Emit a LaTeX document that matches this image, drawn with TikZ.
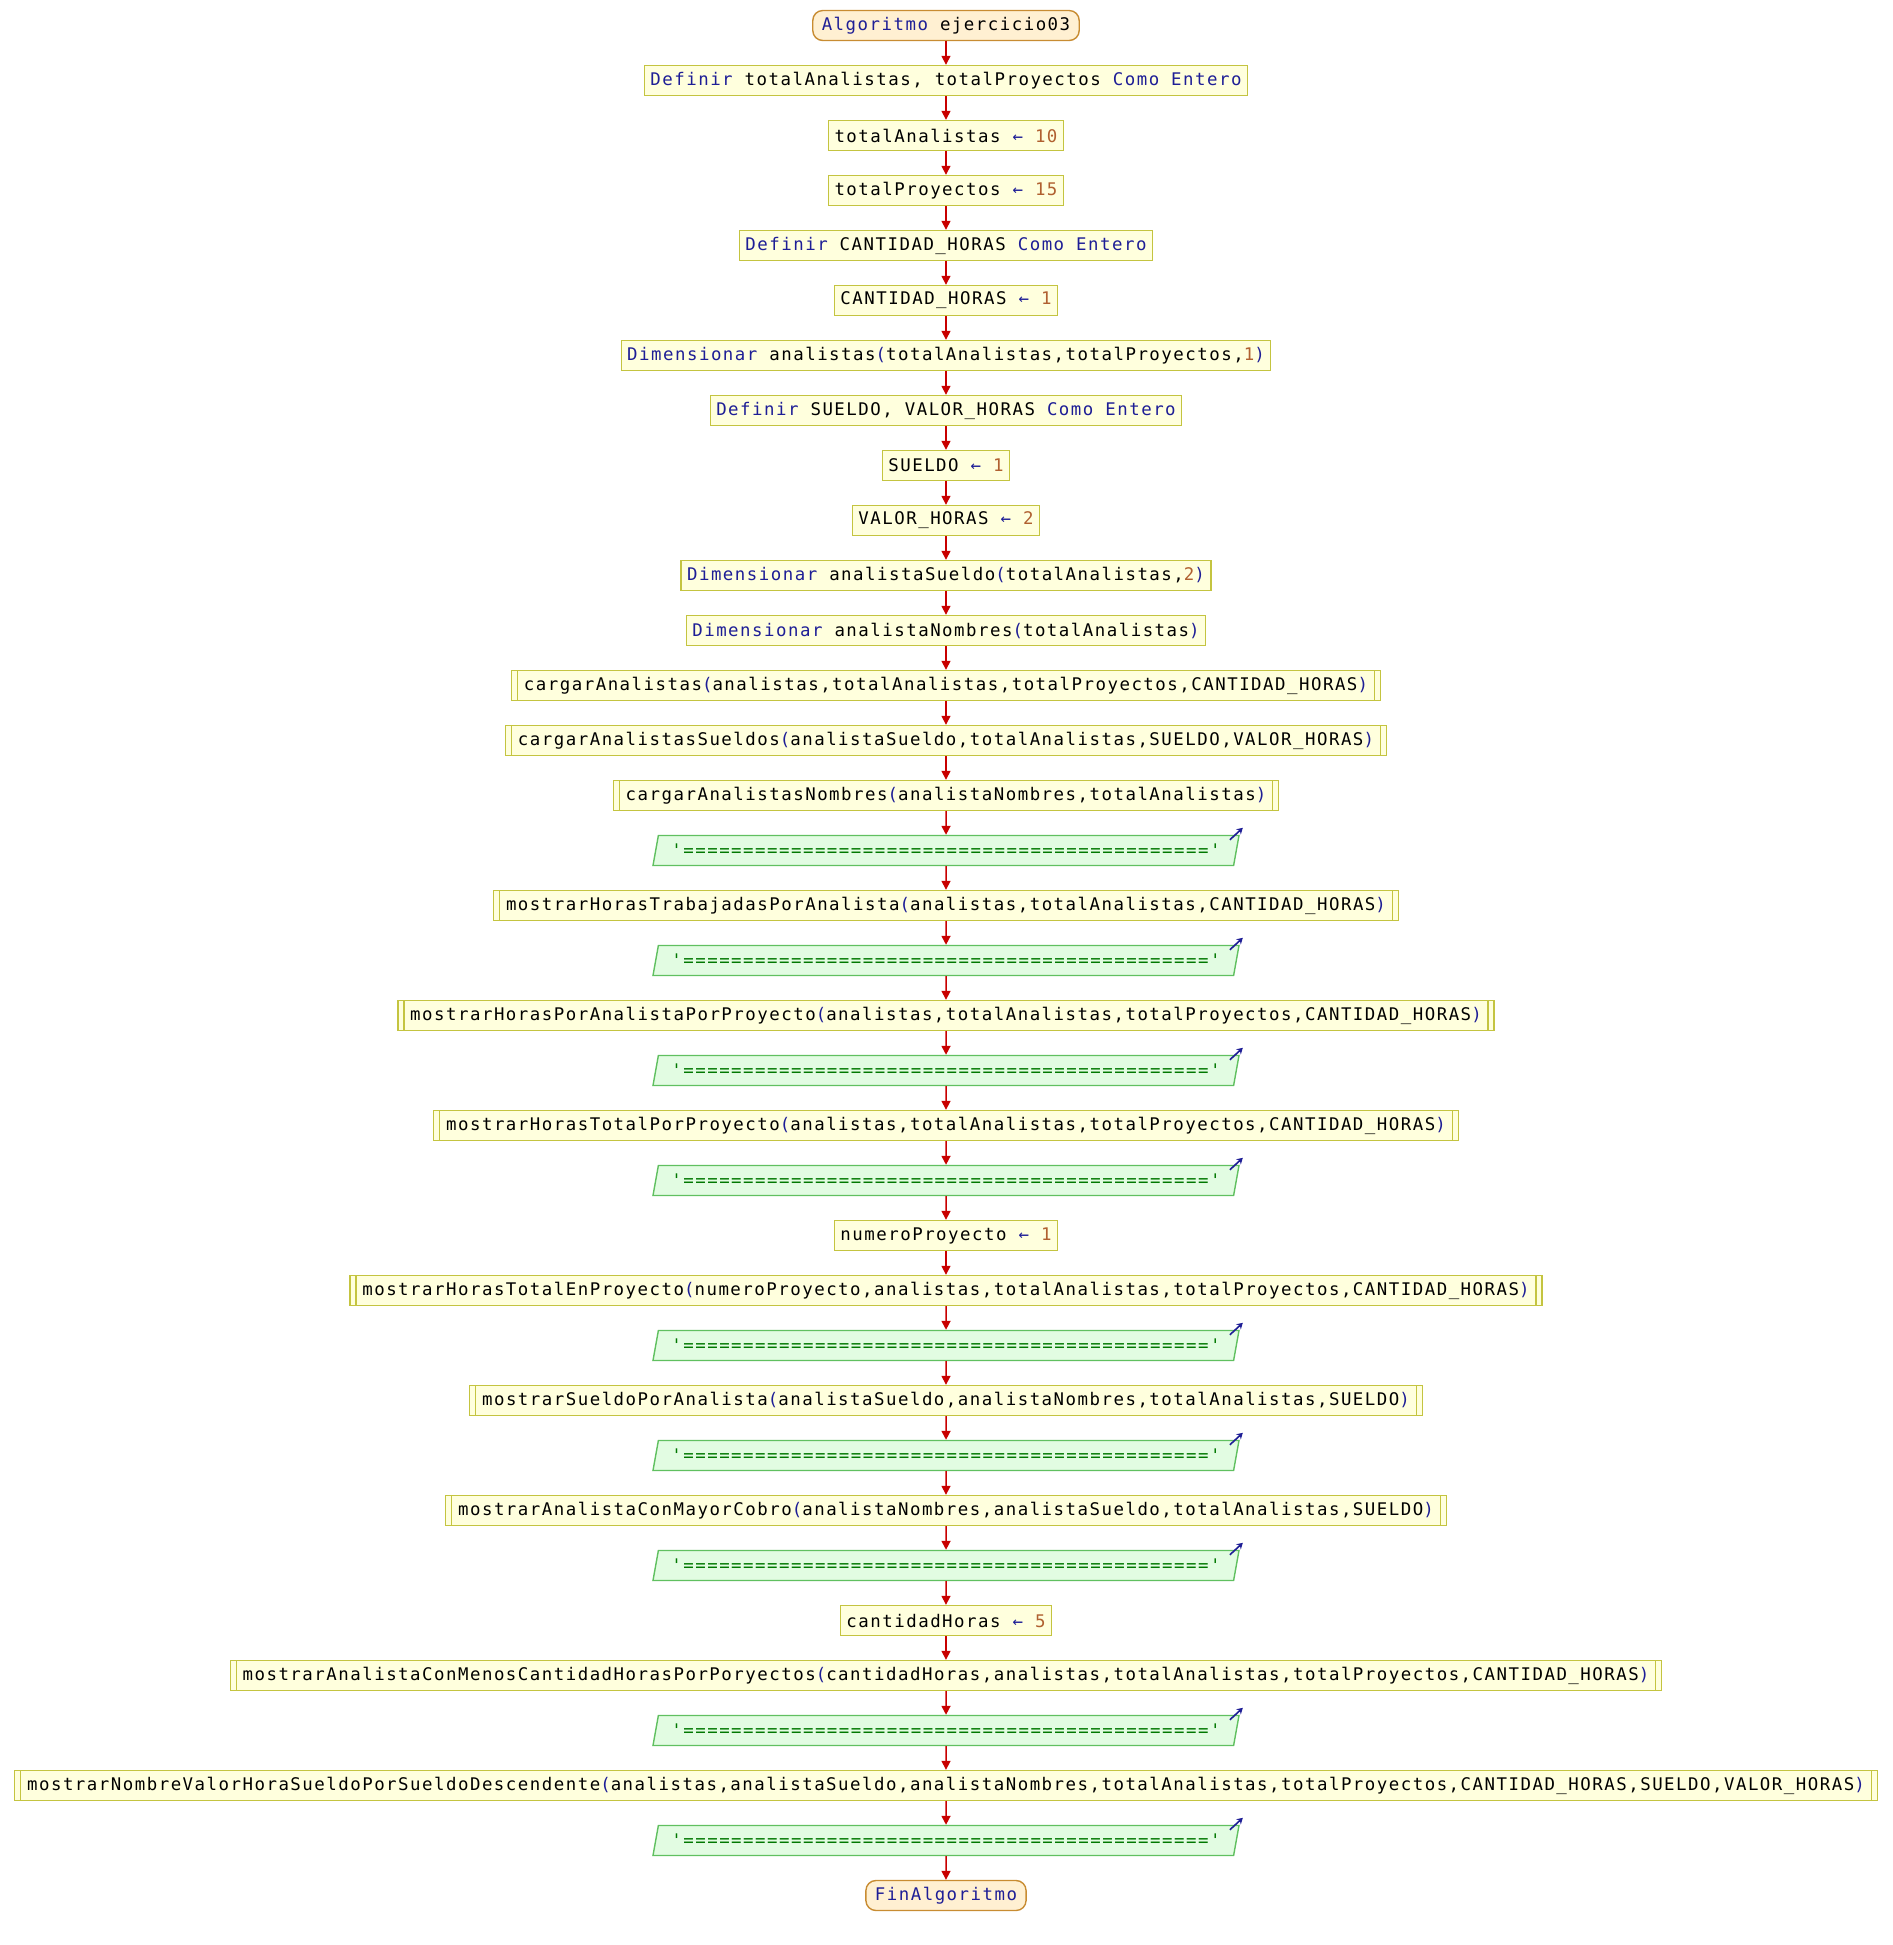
\documentclass[tikz,border=0pt]{standalone}
\usepackage{fontspec}
\usetikzlibrary{shapes.geometric,arrows.meta}
\newfontfamily\codefont[LetterSpace=8.6]{DejaVu Sans Mono}
\definecolor{kwcol}{RGB}{30,30,150}
\definecolor{numcol}{RGB}{176,96,48}
\definecolor{strcol}{RGB}{0,120,0}
\definecolor{termfill}{RGB}{255,240,210}
\definecolor{termdraw}{RGB}{200,140,50}
\definecolor{procfill}{RGB}{255,255,221}
\definecolor{procdraw}{RGB}{196,196,64}
\definecolor{iofill}{RGB}{226,252,226}
\definecolor{iodraw}{RGB}{96,192,96}
\definecolor{flowcol}{RGB}{200,0,0}
\newcommand\kw[1]{\textcolor{kwcol}{#1}}
\newcommand\nm[1]{\textcolor{numcol}{#1}}
\newcommand\asig{\textcolor{kwcol}{←}}
\newcommand\po{\textcolor{kwcol}{(}}
\newcommand\pc{\textcolor{kwcol}{)}}
\newcommand\linea{\textcolor{strcol}{'============================================'}}
\tikzset{
  base/.style={font=\codefont\fontsize{8.7pt}{10pt}\selectfont, minimum height=15pt, inner ysep=0pt, line width=0.7pt},
  term/.style={base, draw=termdraw, fill=termfill, rounded corners=5pt, inner xsep=4.5pt},
  proc/.style={base, draw=procdraw, fill=procfill, inner xsep=3pt},
  subproc/.style={proc, inner xsep=6.2pt,
    path picture={\draw[procdraw, line width=0.7pt]
      ([xshift=3pt]path picture bounding box.north west) -- ([xshift=3pt]path picture bounding box.south west)
      ([xshift=-3pt]path picture bounding box.north east) -- ([xshift=-3pt]path picture bounding box.south east);}},
  io/.style={base, trapezium, trapezium left angle=67, trapezium right angle=113,
    trapezium stretches body, minimum width=293pt, draw=iodraw, fill=iofill},
  flow/.style={draw=flowcol, line width=0.75pt, -{Triangle[width=4.5pt,length=4.5pt]}},
  outarr/.style={draw=kwcol, line width=0.8pt, -{Stealth[length=3pt,width=3.5pt]}}
}
\begin{document}
\begin{tikzpicture}[x=1pt, y=-27.5pt]
  \useasboundingbox (-473pt,12.75pt) rectangle (473pt,-959.75pt);
  % declaraciones
  \node[term] (n0) at (0,0) {\kw{Algoritmo} ejercicio03};
  \node[proc] (n1) at (0,1) {\kw{Definir} totalAnalistas, totalProyectos \kw{Como Entero}};
  \node[proc] (n2) at (0,2) {totalAnalistas \asig{} \nm{10}};
  \node[proc] (n3) at (0,3) {totalProyectos \asig{} \nm{15}};
  \node[proc] (n4) at (0,4) {\kw{Definir} CANTIDAD\_HORAS \kw{Como Entero}};
  \node[proc] (n5) at (0,5) {CANTIDAD\_HORAS \asig{} \nm{1}};
  \node[proc] (n6) at (0,6) {\kw{Dimensionar} analistas\po totalAnalistas,totalProyectos,\nm{1}\pc};
  \node[proc] (n7) at (0,7) {\kw{Definir} SUELDO, VALOR\_HORAS \kw{Como Entero}};
  \node[proc] (n8) at (0,8) {SUELDO \asig{} \nm{1}};
  \node[proc] (n9) at (0,9) {VALOR\_HORAS \asig{} \nm{2}};
  \node[proc] (n10) at (0,10) {\kw{Dimensionar} analistaSueldo\po totalAnalistas,\nm{2}\pc};
  \node[proc] (n11) at (0,11) {\kw{Dimensionar} analistaNombres\po totalAnalistas\pc};
  % carga de datos
  \node[subproc] (n12) at (0,12) {cargarAnalistas\po analistas,totalAnalistas,totalProyectos,CANTIDAD\_HORAS\pc};
  \node[subproc] (n13) at (0,13) {cargarAnalistasSueldos\po analistaSueldo,totalAnalistas,SUELDO,VALOR\_HORAS\pc};
  \node[subproc] (n14) at (0,14) {cargarAnalistasNombres\po analistaNombres,totalAnalistas\pc};
  \node[io] (n15) at (0,15) {\linea};
  \node[subproc] (n16) at (0,16) {mostrarHorasTrabajadasPorAnalista\po analistas,totalAnalistas,CANTIDAD\_HORAS\pc};
  \node[io] (n17) at (0,17) {\linea};
  \node[subproc] (n18) at (0,18) {mostrarHorasPorAnalistaPorProyecto\po analistas,totalAnalistas,totalProyectos,CANTIDAD\_HORAS\pc};
  \node[io] (n19) at (0,19) {\linea};
  \node[subproc] (n20) at (0,20) {mostrarHorasTotalPorProyecto\po analistas,totalAnalistas,totalProyectos,CANTIDAD\_HORAS\pc};
  \node[io] (n21) at (0,21) {\linea};
  \node[proc] (n22) at (0,22) {numeroProyecto \asig{} \nm{1}};
  \node[subproc] (n23) at (0,23) {mostrarHorasTotalEnProyecto\po numeroProyecto,analistas,totalAnalistas,totalProyectos,CANTIDAD\_HORAS\pc};
  \node[io] (n24) at (0,24) {\linea};
  \node[subproc] (n25) at (0,25) {mostrarSueldoPorAnalista\po analistaSueldo,analistaNombres,totalAnalistas,SUELDO\pc};
  \node[io] (n26) at (0,26) {\linea};
  \node[subproc] (n27) at (0,27) {mostrarAnalistaConMayorCobro\po analistaNombres,analistaSueldo,totalAnalistas,SUELDO\pc};
  \node[io] (n28) at (0,28) {\linea};
  \node[proc] (n29) at (0,29) {cantidadHoras \asig{} \nm{5}};
  \node[subproc] (n30) at (0,30) {mostrarAnalistaConMenosCantidadHorasPorPoryectos\po cantidadHoras,analistas,totalAnalistas,totalProyectos,CANTIDAD\_HORAS\pc};
  \node[io] (n31) at (0,31) {\linea};
  \node[subproc] (n32) at (0,32) {mostrarNombreValorHoraSueldoPorSueldoDescendente\po analistas,analistaSueldo,analistaNombres,totalAnalistas,totalProyectos,CANTIDAD\_HORAS,SUELDO,VALOR\_HORAS\pc};
  \node[io] (n33) at (0,33) {\linea};
  \node[term] (n34) at (0,34) {\kw{FinAlgoritmo}};
  % flechas
  \foreach \i [count=\j from 1] in {0,...,33}
    \draw[flow] (n\i) -- (n\j);
  \foreach \i in {15,17,19,21,24,26,28,31,33}
    \draw[outarr] ([xshift=-5pt,yshift=-2.5pt]n\i.top right corner) -- ++(6.5pt,6pt);
\end{tikzpicture}
\end{document}
